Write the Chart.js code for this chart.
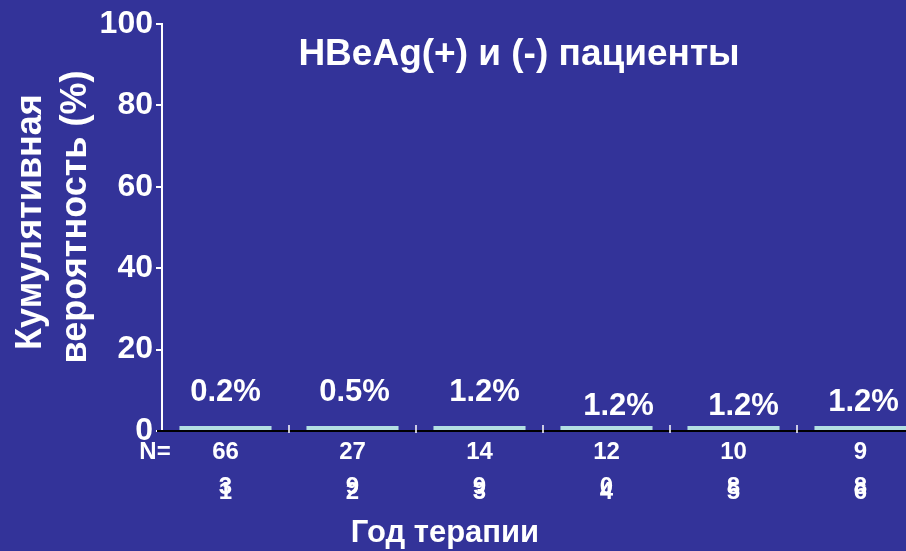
<!DOCTYPE html>
<html>
<head>
<meta charset="utf-8">
<script src="https://cdn.jsdelivr.net/npm/chart.js@4/dist/chart.umd.min.js"></script>
<style>
  html, body { margin: 0; padding: 0; background: #333399; overflow: hidden; }
  #wrap { width: 924px; height: 551px; position: relative; }
</style>
</head>
<body>
<div id="wrap"><canvas id="c" width="924" height="551"></canvas></div>
<script>
// Year of therapy and cumulative probability (%)
const years = ['1', '2', '3', '4', '5', '6'];
const cumulative = [0.2, 0.5, 1.2, 1.2, 1.2, 1.2];
// Patients at risk per year (upper row and the overprinted digit beneath)
const nAtRisk = ['66', '27', '14', '12', '10', '9'];
const nTail = ['3', '9', '9', '0', '8', '8'];
const yTicks = [0, 20, 40, 60, 80, 100];

const FONT = '"Liberation Sans", Arial, sans-serif';
const WHITE = '#ffffff';

const decor = {
  id: 'decor',
  afterDraw(chart, args, opts) {
    const ctx = chart.ctx;
    const x = chart.scales.x, y = chart.scales.y;
    const area = chart.chartArea;
    ctx.save();

    // baseline with a soft shadow under the bars
    const y0 = y.getPixelForValue(0);
    ctx.strokeStyle = '#000000';
    ctx.lineWidth = 2;
    ctx.beginPath();
    ctx.moveTo(area.left - 5, y0);
    ctx.lineTo(area.right, y0);
    ctx.stroke();

    // category separators
    ctx.strokeStyle = WHITE;
    ctx.lineWidth = 1.5;
    for (let i = 1; i < years.length; i++) {
      const bx = (x.getPixelForValue(i - 1) + x.getPixelForValue(i)) / 2;
      ctx.beginPath();
      ctx.moveTo(bx, y0 - 6);
      ctx.lineTo(bx, y0 + 2);
      ctx.stroke();
    }

    // value labels
    const meta = chart.getDatasetMeta(0);
    ctx.fillStyle = WHITE;
    ctx.font = 'bold 31px ' + FONT;
    ctx.textAlign = 'center';
    ctx.textBaseline = 'middle';
    meta.data.forEach((bar, i) => {
      ctx.fillText(cumulative[i].toFixed(1) + '%', bar.x + opts.labelDx[i], bar.y - opts.labelLift[i]);
    });

    // title
    ctx.font = 'bold 37px ' + FONT;
    ctx.fillText('HBeAg(+) и (-) пациенты', 519, 55);

    // y-axis title
    ctx.font = 'bold 36px ' + FONT;
    ctx.save();
    ctx.translate(31, 222);
    ctx.rotate(-Math.PI / 2);
    ctx.fillText('Кумулятивная', 0, 0);
    ctx.restore();
    ctx.save();
    ctx.translate(76, 217);
    ctx.rotate(-Math.PI / 2);
    ctx.fillText('вероятность (%)', 0, 0);
    ctx.restore();

    // patients at risk row and year numbers
    ctx.font = 'bold 24px ' + FONT;
    ctx.fillText('N=', 155, 452);
    years.forEach((yr, i) => {
      const cx = x.getPixelForValue(i);
      ctx.fillText(nAtRisk[i], cx, 452);
      ctx.fillText(nTail[i], cx, 487);
      ctx.fillText(yr, cx, 492);
    });

    // x-axis title
    ctx.font = 'bold 31px ' + FONT;
    ctx.fillText('Год терапии', 445, 533);

    ctx.restore();
  }
};

new Chart(document.getElementById('c'), {
  type: 'bar',
  data: {
    labels: years,
    datasets: [{
      data: cumulative,
      backgroundColor: '#b3dfe2',
      borderWidth: 0,
      minBarLength: 5,
      categoryPercentage: 1.0,
      barPercentage: 0.725
    }]
  },
  options: {
    responsive: false,
    animation: false,
    layout: { padding: { left: 0, right: 0, top: 24, bottom: 120 } },
    plugins: {
      legend: { display: false },
      tooltip: { enabled: false },
      decor: {
        labelLift: [34, 34, 34, 20, 20, 24],
        labelDx: [0, 2, 5, 12, 10, 3]
      }
    },
    scales: {
      x: {
        display: false
      },
      y: {
        min: 0,
        max: 100,
        afterFit(scale) { scale.width = 162; },
        afterBuildTicks(scale) { scale.ticks = yTicks.map(v => ({ value: v })); },
        border: { display: true, color: WHITE, width: 2 },
        grid: { drawOnChartArea: false, color: WHITE, lineWidth: 2, tickLength: 6 },
        ticks: {
          color: WHITE,
          padding: 3,
          font: { family: FONT, size: 32, weight: 'bold' }
        }
      }
    }
  },
  plugins: [decor]
});
</script>
</body>
</html>
